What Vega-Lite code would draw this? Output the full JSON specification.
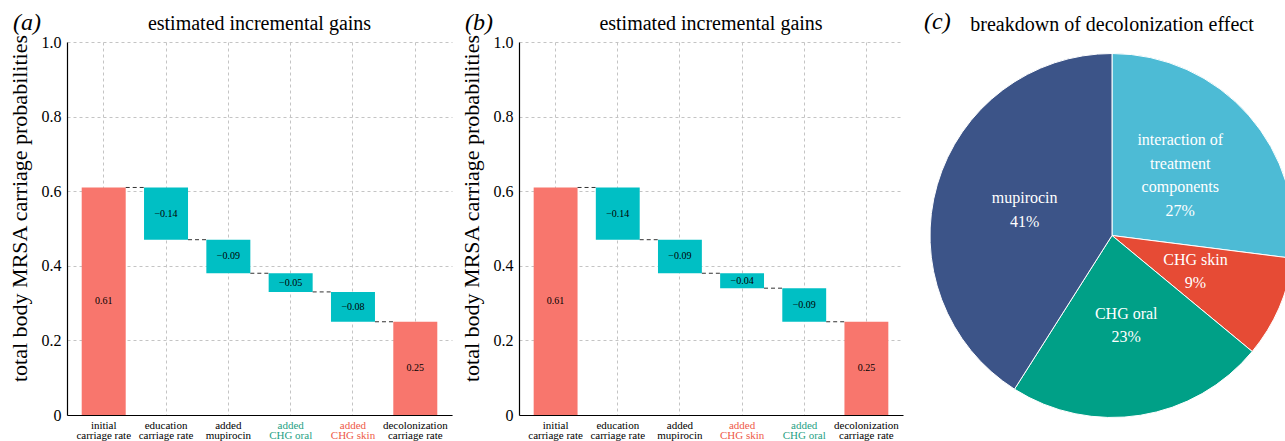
{
  "$schema": "https://vega.github.io/schema/vega-lite/v6.json",
  "padding": {"left": 8, "top": 10, "right": 0, "bottom": 0},
  "spacing": 8,
  "resolve": {"scale": {"color": "independent", "x": "independent", "y": "independent", "theta": "independent"}},
  "config": {
    "font": "Liberation Serif",
    "view": {"stroke": null},
    "title": {"fontSize": 20, "fontWeight": "normal", "color": "black", "font": "Liberation Serif"},
    "text": {"font": "Liberation Serif"},
    "axis": {
      "labelFont": "Liberation Serif",
      "titleFont": "Liberation Serif",
      "labelColor": "black",
      "titleColor": "black",
      "domainColor": "black",
      "domainWidth": 1.2,
      "ticks": false,
      "grid": true,
      "gridDash": [3, 3],
      "gridColor": "#c4c4c4",
      "gridWidth": 1
    }
  },
  "hconcat": [
    {
      "title": {"text": "(a)", "font": "Liberation Serif", "fontStyle": "italic", "fontSize": 24, "anchor": "start", "frame": "bounds", "offset": -21.5, "dx": 5},
      "vconcat": [
        {
          "width": 385,
          "height": 373,
          "title": {"text": "estimated incremental gains", "anchor": "middle", "offset": 0},
          "data": {"values": [
            {"cat": "initial|carriage rate", "start": 0, "end": 0.61, "change": 0.61, "kind": "total", "next": "education|carriage rate"},
            {"cat": "education|carriage rate", "start": 0.61, "end": 0.47, "change": -0.14, "kind": "change", "next": "added|mupirocin"},
            {"cat": "added|mupirocin", "start": 0.47, "end": 0.38, "change": -0.09, "kind": "change", "next": "added|CHG oral"},
            {"cat": "added|CHG oral", "start": 0.38, "end": 0.33, "change": -0.05, "kind": "change", "next": "added|CHG skin"},
            {"cat": "added|CHG skin", "start": 0.33, "end": 0.25, "change": -0.08, "kind": "change", "next": "decolonization|carriage rate"},
            {"cat": "decolonization|carriage rate", "start": 0, "end": 0.25, "change": 0.25, "kind": "total", "next": null}
          ]},
          "encoding": {
            "x": {
              "field": "cat", "type": "nominal",
              "scale": {"domain": ["initial|carriage rate", "education|carriage rate", "added|mupirocin", "added|CHG oral", "added|CHG skin", "decolonization|carriage rate"], "paddingInner": 0.294, "paddingOuter": 0.236},
              "axis": {
                "title": null, "labelAngle": 0, "labelFont": "Liberation Serif", "labelFontSize": 11, "labelLineHeight": 10.5, "labelPadding": 4,
                "bandPosition": 0.5,
                "labelExpr": "split(datum.value, '|')",
                "labelColor": {"condition": [
                  {"test": "indexof(datum.value, 'oral') >= 0", "value": "#1fa184"},
                  {"test": "indexof(datum.value, 'skin') >= 0", "value": "#ee5a48"}
                ], "value": "black"}
              }
            }
          },
          "layer": [
            {
              "mark": {"type": "bar"},
              "encoding": {
                "y": {"field": "start", "type": "quantitative", "scale": {"domain": [0, 1], "nice": false},
                  "axis": {
                    "title": "total body MRSA carriage probabilities", "titleFont": "Liberation Serif", "titleFontSize": 22, "titleFontWeight": "normal", "titlePadding": 10, "titleY": 166,
                    "labelFont": "Liberation Serif", "labelFontSize": 16, "labelPadding": 6, "labelOverlap": false,
                    "values": [0, 0.1, 0.2, 0.3, 0.4, 0.5, 0.6, 0.7, 0.8, 0.9, 1.0],
                    "labelExpr": "datum.value == 0 ? '0' : (round(datum.value * 10) % 2 == 0 ? format(datum.value, '.1f') : '')"
                  }},
                "y2": {"field": "end"},
                "color": {"field": "kind", "type": "nominal", "scale": {"domain": ["total", "change"], "range": ["#f8766d", "#00bfc4"]}, "legend": null}
              }
            },
            {
              "transform": [{"filter": "datum.next != null"}],
              "mark": {"type": "rule", "color": "#333333", "strokeDash": [4, 3], "strokeWidth": 1},
              "encoding": {
                "x": {"field": "cat", "type": "nominal", "bandPosition": 1},
                "x2": {"field": "next", "bandPosition": 0},
                "y": {"field": "end", "type": "quantitative"}
              }
            },
            {
              "transform": [{"fold": ["start", "end"], "as": ["k", "v"]}],
              "mark": {"type": "text", "font": "Liberation Serif", "fontSize": 10, "color": "black", "baseline": "middle"},
              "encoding": {
                "y": {"aggregate": "mean", "field": "v", "type": "quantitative"},
                "text": {"field": "change", "type": "quantitative", "format": ".2f"}
              }
            }
          ]
        }
      ]
    },
    {
      "title": {"text": "(b)", "font": "Liberation Serif", "fontStyle": "italic", "fontSize": 24, "anchor": "start", "frame": "bounds", "offset": -21.5, "dx": 5},
      "vconcat": [
        {
          "width": 384,
          "height": 373,
          "title": {"text": "estimated incremental gains", "anchor": "middle", "offset": 0},
          "data": {"values": [
            {"cat": "initial|carriage rate", "start": 0, "end": 0.61, "change": 0.61, "kind": "total", "next": "education|carriage rate"},
            {"cat": "education|carriage rate", "start": 0.61, "end": 0.47, "change": -0.14, "kind": "change", "next": "added|mupirocin"},
            {"cat": "added|mupirocin", "start": 0.47, "end": 0.38, "change": -0.09, "kind": "change", "next": "added|CHG skin"},
            {"cat": "added|CHG skin", "start": 0.38, "end": 0.34, "change": -0.04, "kind": "change", "next": "added|CHG oral"},
            {"cat": "added|CHG oral", "start": 0.34, "end": 0.25, "change": -0.09, "kind": "change", "next": "decolonization|carriage rate"},
            {"cat": "decolonization|carriage rate", "start": 0, "end": 0.25, "change": 0.25, "kind": "total", "next": null}
          ]},
          "encoding": {
            "x": {
              "field": "cat", "type": "nominal",
              "scale": {"domain": ["initial|carriage rate", "education|carriage rate", "added|mupirocin", "added|CHG skin", "added|CHG oral", "decolonization|carriage rate"], "paddingInner": 0.294, "paddingOuter": 0.236},
              "axis": {
                "title": null, "labelAngle": 0, "labelFont": "Liberation Serif", "labelFontSize": 11, "labelLineHeight": 10.5, "labelPadding": 4,
                "bandPosition": 0.5,
                "labelExpr": "split(datum.value, '|')",
                "labelColor": {"condition": [
                  {"test": "indexof(datum.value, 'oral') >= 0", "value": "#1fa184"},
                  {"test": "indexof(datum.value, 'skin') >= 0", "value": "#ee5a48"}
                ], "value": "black"}
              }
            }
          },
          "layer": [
            {
              "mark": {"type": "bar"},
              "encoding": {
                "y": {"field": "start", "type": "quantitative", "scale": {"domain": [0, 1], "nice": false},
                  "axis": {
                    "title": "total body MRSA carriage probabilities", "titleFont": "Liberation Serif", "titleFontSize": 22, "titleFontWeight": "normal", "titlePadding": 10, "titleY": 166,
                    "labelFont": "Liberation Serif", "labelFontSize": 16, "labelPadding": 6, "labelOverlap": false,
                    "values": [0, 0.1, 0.2, 0.3, 0.4, 0.5, 0.6, 0.7, 0.8, 0.9, 1.0],
                    "labelExpr": "datum.value == 0 ? '0' : (round(datum.value * 10) % 2 == 0 ? format(datum.value, '.1f') : '')"
                  }},
                "y2": {"field": "end"},
                "color": {"field": "kind", "type": "nominal", "scale": {"domain": ["total", "change"], "range": ["#f8766d", "#00bfc4"]}, "legend": null}
              }
            },
            {
              "transform": [{"filter": "datum.next != null"}],
              "mark": {"type": "rule", "color": "#333333", "strokeDash": [4, 3], "strokeWidth": 1},
              "encoding": {
                "x": {"field": "cat", "type": "nominal", "bandPosition": 1},
                "x2": {"field": "next", "bandPosition": 0},
                "y": {"field": "end", "type": "quantitative"}
              }
            },
            {
              "transform": [{"fold": ["start", "end"], "as": ["k", "v"]}],
              "mark": {"type": "text", "font": "Liberation Serif", "fontSize": 10, "color": "black", "baseline": "middle"},
              "encoding": {
                "y": {"aggregate": "mean", "field": "v", "type": "quantitative"},
                "text": {"field": "change", "type": "quantitative", "format": ".2f"}
              }
            }
          ]
        }
      ]
    },
    {
      "title": {"text": "(c)", "font": "Liberation Serif", "fontStyle": "italic", "fontSize": 24, "anchor": "start", "frame": "bounds", "offset": -19, "dx": 13},
      "vconcat": [
        {
          "width": 402,
          "height": 387,
          "title": {"text": "breakdown of decolonization effect", "anchor": "middle", "offset": 7},
          "data": {"values": [
            {"part": "interaction of\ntreatment\ncomponents", "pct": 27},
            {"part": "CHG skin", "pct": 9},
            {"part": "CHG oral", "pct": 23},
            {"part": "mupirocin", "pct": 41}
          ]},
          "transform": [{"calculate": "datum.part + '\\n' + datum.pct + '%'", "as": "label"}],
          "encoding": {
            "theta": {"field": "pct", "type": "quantitative", "stack": true, "scale": {"range": [-2.5761, 3.7071]}},
            "order": {"field": "part", "sort": "descending"}
          },
          "layer": [
            {
              "mark": {"type": "arc", "outerRadius": 182, "stroke": "white", "strokeWidth": 1},
              "encoding": {
                "color": {"field": "part", "type": "nominal", "scale": {"domain": ["interaction of\ntreatment\ncomponents", "CHG skin", "CHG oral", "mupirocin"], "range": ["#4dbbd5", "#e64b35", "#00a087", "#3c5488"]}, "legend": null}
              }
            },
            {
              "mark": {"type": "text", "radius": 91, "font": "Liberation Serif", "fontSize": 16, "color": "white", "lineBreak": "\n", "lineHeight": 23.5, "baseline": "middle", "align": "center", "dy": {"expr": "datum.pct == 27 ? -35.25 : -11.75"}},
              "encoding": {
                "text": {"field": "label", "type": "nominal"}
              }
            }
          ]
        }
      ]
    }
  ]
}
